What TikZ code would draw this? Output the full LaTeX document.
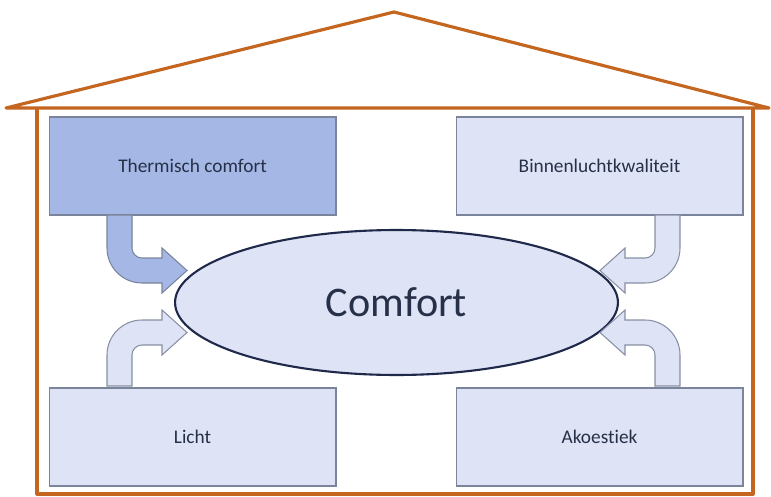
\documentclass[tikz,border=0pt]{standalone}
\usepackage{fontspec}
\setmainfont[Ligatures=NoCommon]{Carlito}
\usetikzlibrary{shapes.geometric}

\definecolor{huis}{RGB}{197,102,32}
\definecolor{donkervul}{RGB}{164,183,229}
\definecolor{lichtvul}{RGB}{222,227,245}
\definecolor{rand}{RGB}{122,132,155}
\definecolor{tekst}{RGB}{38,48,72}
\definecolor{ellipsrand}{RGB}{31,41,74}

\begin{document}
\begin{tikzpicture}[
    x=0.02cm, y=-0.02cm,
    factor/.style={rectangle, draw=rand, line width=0.6pt, fill=lichtvul,
                   minimum width=5.74cm, minimum height=1.96cm, inner sep=0pt,
                   text=tekst, font=\fontsize{11}{13}\selectfont},
    hoofdfactor/.style={factor, fill=donkervul},
    muur/.style={draw=huis, line width=1.8pt, line join=round},
    pijl/.style={draw=rand!90, line width=0.6pt, fill=lichtvul, line join=miter},
    hoofdpijl/.style={pijl, draw=rand, fill=donkervul},
]
\useasboundingbox (0,0) rectangle (771,497);

% Huis
\draw[muur] (6,108) -- (394,12) -- (769,108) -- cycle;
\draw[muur] (37,108) -- (37,494) -- (753,494) -- (753,108);

% Factoren
\node[hoofdfactor] (therm) at (192.5,166) {Thermisch comfort};
\node[factor] (lucht) at (599.5,166) {Binnenluchtkwaliteit};
\node[factor] (licht) at (192.5,437) {Licht};
\node[factor] (akoe) at (599.5,437) {Akoestiek};

% Comfort
\node[ellipse, draw=ellipsrand, line width=1.2pt, fill=lichtvul,
      minimum width=8.86cm, minimum height=2.9cm, inner sep=0pt,
      text=tekst, font=\fontsize{24}{28}\selectfont] (comfort) at (396.5,302.5) {Comfort};

% Gebogen pijlen
\coordinate (p1) at (107,215);
\coordinate (p2) at (680,215);
\coordinate (p3) at (107,386);
\coordinate (p4) at (680,386);

\draw[hoofdpijl] (p1) -- (107,248) arc[start angle=180, end angle=90, radius=35]
    -- (162,283) -- (162,293) -- (187,270.5) -- (162,248) -- (162,258) -- (142,258)
    arc[start angle=90, end angle=180, radius=10] -- (132,215) -- cycle;
\draw[pijl] (p2) -- (680,248) arc[start angle=0, end angle=90, radius=35]
    -- (625,283) -- (625,293) -- (600,270.5) -- (625,248) -- (625,258) -- (645,258)
    arc[start angle=90, end angle=0, radius=10] -- (655,215) -- cycle;
\draw[pijl] (p3) -- (107,355) arc[start angle=180, end angle=270, radius=35]
    -- (162,320) -- (162,310) -- (187,332.5) -- (162,355) -- (162,345) -- (142,345)
    arc[start angle=270, end angle=180, radius=10] -- (132,386) -- cycle;
\draw[pijl] (p4) -- (680,355) arc[start angle=0, end angle=-90, radius=35]
    -- (625,320) -- (625,310) -- (600,332.5) -- (625,355) -- (625,345) -- (645,345)
    arc[start angle=-90, end angle=0, radius=10] -- (655,386) -- cycle;

\end{tikzpicture}
\end{document}
